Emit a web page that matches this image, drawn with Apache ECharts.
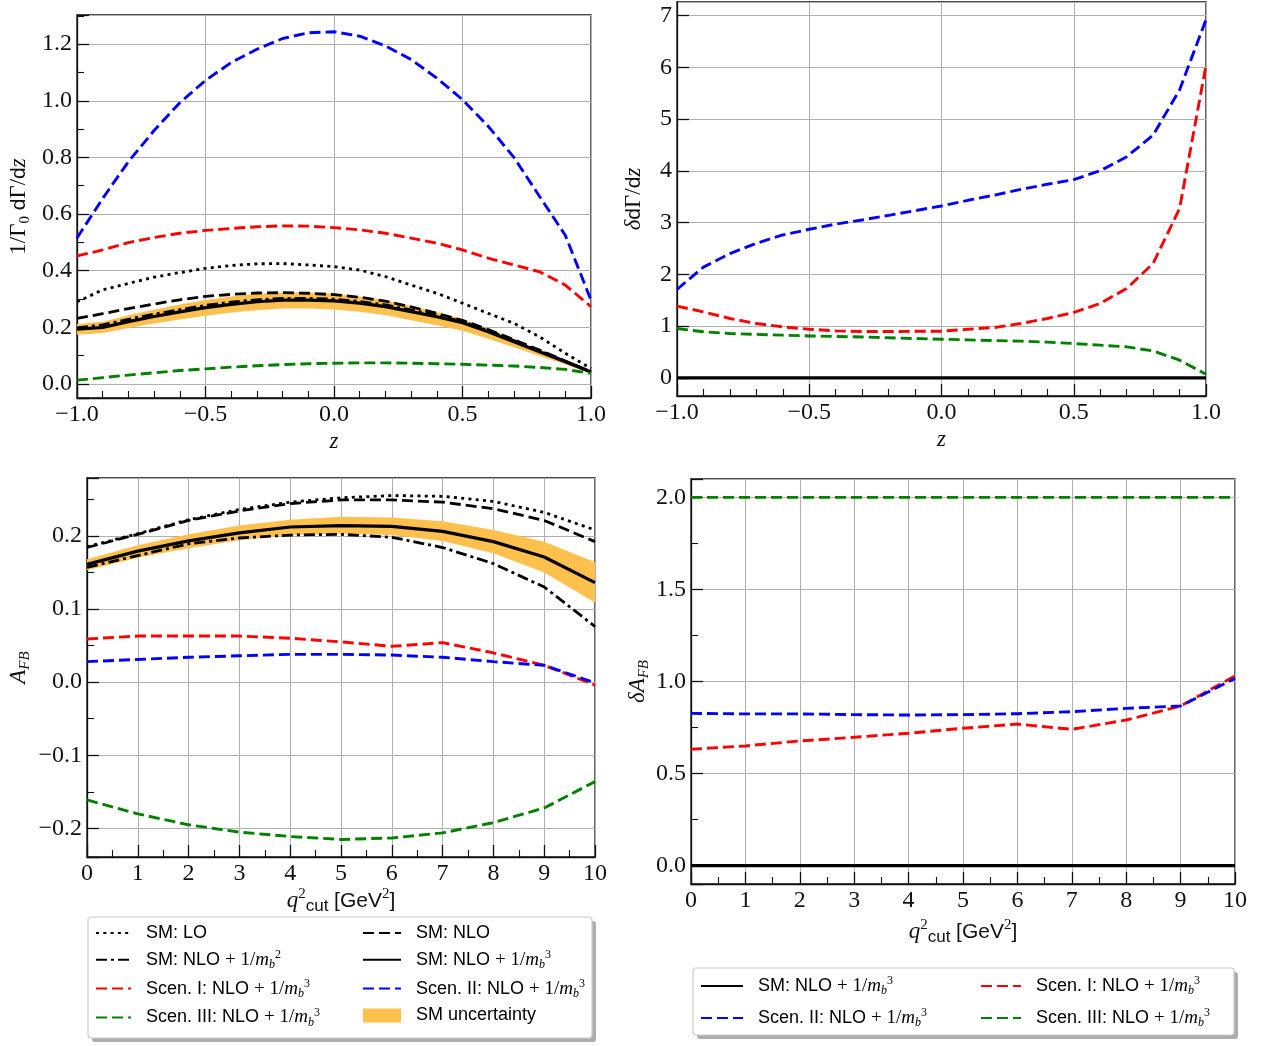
<!DOCTYPE html>
<html>
<head>
<meta charset="utf-8">
<script src="https://cdn.jsdelivr.net/npm/echarts@6/dist/echarts.min.js"></script>
<style>
  html, body { margin: 0; padding: 0; background: #ffffff; }
  #chart { width: 1272px; height: 1046px; }
</style>
</head>
<body>
<div id="chart"></div>
<script>
// ---- sampling points ----
const zValues = [-1.0, -0.9, -0.8, -0.7, -0.6, -0.5, -0.4, -0.3, -0.2, -0.1, 0.0,
                 0.1, 0.2, 0.3, 0.4, 0.5, 0.6, 0.7, 0.8, 0.9, 1.0];
const qCut = [0, 1, 2, 3, 4, 5, 6, 7, 8, 9, 10];

// ---- normalised spectrum 1/Γ0 dΓ/dz ----
const rateSmLO     = [0.290, 0.332, 0.355, 0.377, 0.393, 0.408, 0.418, 0.424, 0.425, 0.420, 0.414,
                      0.402, 0.379, 0.349, 0.320, 0.285, 0.249, 0.214, 0.166, 0.108, 0.054];
const rateSmNLO    = [0.231, 0.248, 0.266, 0.282, 0.297, 0.309, 0.316, 0.321, 0.322, 0.320, 0.315,
                      0.306, 0.292, 0.272, 0.249, 0.224, 0.192, 0.156, 0.119, 0.081, 0.042];
const rateSmNLO2   = [0.198, 0.208, 0.228, 0.246, 0.262, 0.277, 0.289, 0.297, 0.302, 0.302, 0.299,
                      0.291, 0.279, 0.261, 0.242, 0.220, 0.188, 0.153, 0.116, 0.080, 0.043];
const rateSmNLO3   = [0.193, 0.199, 0.220, 0.238, 0.254, 0.269, 0.281, 0.290, 0.296, 0.296, 0.293,
                      0.285, 0.273, 0.255, 0.237, 0.216, 0.184, 0.149, 0.113, 0.078, 0.042];
const rateBandLow  = [0.173, 0.180, 0.197, 0.213, 0.227, 0.241, 0.252, 0.260, 0.266, 0.266, 0.263,
                      0.255, 0.243, 0.225, 0.207, 0.188, 0.159, 0.129, 0.098, 0.068, 0.036];
const rateBandHigh = [0.211, 0.219, 0.242, 0.262, 0.280, 0.296, 0.309, 0.318, 0.324, 0.323, 0.319,
                      0.309, 0.295, 0.275, 0.254, 0.230, 0.195, 0.158, 0.120, 0.083, 0.045];
const rateScen1    = [0.452, 0.473, 0.499, 0.517, 0.532, 0.542, 0.549, 0.555, 0.558, 0.557, 0.552,
                      0.544, 0.532, 0.515, 0.497, 0.473, 0.444, 0.420, 0.396, 0.349, 0.273];
const rateScen2    = [0.515, 0.655, 0.785, 0.895, 0.993, 1.072, 1.135, 1.182, 1.220, 1.240, 1.244,
                      1.228, 1.194, 1.146, 1.080, 1.004, 0.910, 0.800, 0.662, 0.525, 0.296];
const rateScen3    = [0.013, 0.022, 0.031, 0.039, 0.047, 0.053, 0.059, 0.064, 0.068, 0.071, 0.073,
                      0.074, 0.074, 0.073, 0.071, 0.069, 0.066, 0.063, 0.058, 0.051, 0.037];

// ---- relative deviation δdΓ/dz ----
const devSm    = [0, 0, 0, 0, 0, 0, 0, 0, 0, 0, 0, 0, 0, 0, 0, 0, 0, 0, 0, 0, 0];
const devScen1 = [1.385, 1.275, 1.147, 1.050, 0.985, 0.940, 0.908, 0.895, 0.895, 0.900, 0.902,
                  0.940, 0.973, 1.050, 1.147, 1.263, 1.437, 1.727, 2.210, 3.270, 6.040];
const devScen2 = [1.71, 2.14, 2.40, 2.60, 2.76, 2.87, 2.97, 3.05, 3.14, 3.23, 3.32,
                  3.43, 3.53, 3.64, 3.74, 3.83, 4.00, 4.27, 4.69, 5.56, 6.92];
const devScen3 = [0.954, 0.890, 0.857, 0.840, 0.825, 0.810, 0.800, 0.790, 0.775, 0.760, 0.747,
                  0.734, 0.720, 0.710, 0.690, 0.664, 0.632, 0.600, 0.520, 0.342, 0.070];

// ---- forward-backward asymmetry A_FB vs q²_cut ----
const afbSmLO     = [0.185, 0.203, 0.222, 0.236, 0.246, 0.252, 0.255, 0.254, 0.247, 0.232, 0.208];
const afbSmNLO    = [0.184, 0.202, 0.221, 0.234, 0.244, 0.249, 0.249, 0.246, 0.237, 0.221, 0.192];
const afbSmNLO2   = [0.157, 0.173, 0.189, 0.197, 0.201, 0.202, 0.198, 0.184, 0.162, 0.130, 0.076];
const afbSmNLO3   = [0.161, 0.179, 0.193, 0.204, 0.212, 0.214, 0.213, 0.206, 0.192, 0.171, 0.136];
const afbBandLow  = [0.153, 0.170, 0.183, 0.194, 0.201, 0.203, 0.201, 0.193, 0.176, 0.150, 0.109];
const afbBandHigh = [0.168, 0.187, 0.202, 0.214, 0.222, 0.226, 0.225, 0.220, 0.208, 0.192, 0.164];
const afbScen1    = [0.059, 0.063, 0.063, 0.063, 0.060, 0.055, 0.049, 0.054, 0.040, 0.023, -0.004];
const afbScen2    = [0.028, 0.031, 0.034, 0.036, 0.038, 0.038, 0.037, 0.034, 0.028, 0.023, -0.001];
const afbScen3    = [-0.161, -0.180, -0.195, -0.205, -0.211, -0.215, -0.213, -0.206, -0.192, -0.172, -0.136];

// ---- relative deviation δA_FB ----
const dAfbSm    = [0, 0, 0, 0, 0, 0, 0, 0, 0, 0, 0];
const dAfbScen1 = [0.632, 0.650, 0.677, 0.697, 0.719, 0.746, 0.769, 0.740, 0.791, 0.867, 1.030];
const dAfbScen2 = [0.827, 0.824, 0.824, 0.820, 0.818, 0.820, 0.825, 0.836, 0.854, 0.867, 1.017];
const dAfbScen3 = [2.0, 2.0, 2.0, 2.0, 2.0, 2.0, 2.0, 2.0, 2.0, 2.0, 2.0];

// ---- series labels ----
const N_LO = 'SM: LO';
const N_NLO = 'SM: NLO';
const N_NLO2 = 'SM: NLO + 1/m_b^2';
const N_NLO3 = 'SM: NLO + 1/m_b^3';
const N_S1 = 'Scen. I: NLO + 1/m_b^3';
const N_S2 = 'Scen. II: NLO + 1/m_b^3';
const N_S3 = 'Scen. III: NLO + 1/m_b^3';
const N_BAND = 'SM uncertainty';

// ---- styling ----
const SERIF = 'Liberation Serif';
const SANS = 'Liberation Sans';
const INK = '#111111';
const BAND = '#ffc04d';
const DASH = [11, 5];
const DOT = [3, 4.3];
const DASHDOT = [11, 4, 3, 4];

const lineStyles = {
  [N_LO]:   { color: '#000000', width: 2.8, type: DOT },
  [N_NLO]:  { color: '#000000', width: 2.8, type: DASH },
  [N_NLO2]: { color: '#000000', width: 2.8, type: DASHDOT },
  [N_NLO3]: { color: '#000000', width: 3.2, type: 'solid' },
  [N_S1]:   { color: '#ff0000', width: 2.9, type: DASH },
  [N_S2]:   { color: '#0000ff', width: 2.9, type: DASH },
  [N_S3]:   { color: '#008000', width: 2.9, type: DASH },
};

function pairs(xs, ys) { return xs.map((x, i) => [x, ys[i]]); }

function curve(name, grid, xs, ys) {
  return {
    type: 'line', name: name, xAxisIndex: grid, yAxisIndex: grid,
    data: pairs(xs, ys), symbol: 'none', showSymbol: false, smooth: false,
    lineStyle: Object.assign({}, lineStyles[name]),
    itemStyle: { color: lineStyles[name].color },
    emphasis: { disabled: true }, z: 3,
  };
}

// uncertainty band: one filled polygon between the lower and upper edges
function band(grid, xs, low, high) {
  const rows = xs.map((x, i) => [x, low[i], high[i]]);
  return {
    type: 'custom', name: N_BAND, xAxisIndex: grid, yAxisIndex: grid,
    data: rows, encode: { x: 0, y: [1, 2] }, silent: true, z: 2,
    itemStyle: { color: BAND },
    renderItem: function (params, api) {
      if (params.dataIndex !== 0) return null;
      const top = rows.map(r => api.coord([r[0], r[2]]));
      const bottom = rows.map(r => api.coord([r[0], r[1]])).reverse();
      return {
        type: 'polygon',
        shape: { points: top.concat(bottom) },
        style: { fill: BAND, stroke: null },
      };
    },
  };
}

const minus = s => s.replace('-', '\u2212');
const fmt1 = v => minus(Math.abs(v) < 1e-9 ? '0.0' : v.toFixed(1));
const fmt0 = v => minus(String(Math.round(v)));

const NAME_RICH = {
  r:   { fontFamily: SERIF, fontSize: 23, color: INK, lineHeight: 28 },
  i:   { fontFamily: SERIF, fontStyle: 'italic', fontSize: 23, color: INK, lineHeight: 28 },
  s:   { fontFamily: SANS, fontSize: 21, color: INK, lineHeight: 28 },
  sub: { fontFamily: SERIF, fontSize: 15, color: INK, lineHeight: 12, verticalAlign: 'bottom' },
  isub:{ fontFamily: SERIF, fontStyle: 'italic', fontSize: 15, color: INK, lineHeight: 12, verticalAlign: 'bottom' },
  ssub:{ fontFamily: SANS, fontSize: 17, color: INK, lineHeight: 12, verticalAlign: 'bottom' },
  sup: { fontFamily: SERIF, fontSize: 15, color: INK, lineHeight: 12, verticalAlign: 'top' },
};

function axis(o) {
  return {
    type: 'value', gridIndex: o.grid, min: o.min, max: o.max,
    interval: o.interval, splitNumber: o.splitNumber,
    name: o.name || '', nameLocation: 'middle', nameGap: o.nameGap || 0, nameRotate: o.nameRotate || 0,
    nameTextStyle: { color: INK, rich: NAME_RICH },
    axisLine: { show: true, onZero: false, lineStyle: { color: INK, width: 1.3 } },
    axisTick: { show: true, inside: true, length: 12, lineStyle: { color: INK, width: 1.3 } },
    minorTick: { show: !!o.minor, splitNumber: o.minor || 5, length: 7, lineStyle: { color: INK, width: 1.1 } },
    splitLine: { show: true, lineStyle: { color: '#b0b0b0', width: 1 } },
    minorSplitLine: { show: false },
    axisLabel: {
      show: true, formatter: o.fmt, color: INK, fontFamily: SERIF, fontSize: 24,
      margin: o.margin || 5, showMinLabel: o.ends, showMaxLabel: o.ends, hideOverlap: false,
    },
  };
}

const grids = [
  { left: 77,  top: 15,  width: 514, height: 383 },
  { left: 677, top: 2,   width: 529, height: 394 },
  { left: 87,  top: 478, width: 508, height: 379 },
  { left: 691, top: 479, width: 544, height: 405 },
].map(g => Object.assign({ show: true, borderColor: INK, borderWidth: 1.3, backgroundColor: 'transparent',
                            outerBoundsMode: 'none', containLabel: false }, g));

const xAxes = [
  axis({ grid: 0, min: -1, max: 1, interval: 0.5, minor: 5, fmt: fmt1, ends: true, name: '{i|z}', nameGap: 30 }),
  axis({ grid: 1, min: -1, max: 1, interval: 0.5, minor: 5, fmt: fmt1, ends: true, name: '{i|z}', nameGap: 30 }),
  axis({ grid: 2, min: 0, max: 10, interval: 1, minor: 2, fmt: fmt0, ends: true,
         name: '{i|q}{sup|2}{ssub|cut}{r| }{s|[GeV}{sup|2}{s|]}', nameGap: 30 }),
  axis({ grid: 3, min: 0, max: 10, interval: 1, minor: 2, fmt: fmt0, ends: true,
         name: '{i|q}{sup|2}{ssub|cut}{r| }{s|[GeV}{sup|2}{s|]}', nameGap: 34 }),
];
const yAxes = [
  axis({ grid: 0, min: -0.05, max: 1.303, splitNumber: 7, minor: 2, fmt: fmt1, ends: false,
         name: '{r|1/Γ}{sub|0}{r| }{s|d}{r|Γ/}{s|d}{i|z}', nameGap: 44, nameRotate: 90 }),
  axis({ grid: 1, min: -0.35, max: 7.26, splitNumber: 8, minor: 0, fmt: fmt0, ends: false,
         name: '{i|δ}{s|d}{r|Γ/}{s|d}{i|z}', nameGap: 29, nameRotate: 90 }),
  axis({ grid: 2, min: -0.239, max: 0.279, splitNumber: 5, minor: 2, fmt: fmt1, ends: false,
         name: '{i|A}{isub|FB}', nameGap: 54, nameRotate: 90 }),
  axis({ grid: 3, min: -0.1, max: 2.1, splitNumber: 4, minor: 2, fmt: fmt1, ends: false,
         name: '{i|δA}{isub|FB}', nameGap: 39, nameRotate: 90 }),
];

const series = [].concat(
  band(0, zValues, rateBandLow, rateBandHigh),
  curve(N_LO, 0, zValues, rateSmLO),
  curve(N_NLO, 0, zValues, rateSmNLO),
  curve(N_NLO2, 0, zValues, rateSmNLO2),
  curve(N_NLO3, 0, zValues, rateSmNLO3),
  curve(N_S1, 0, zValues, rateScen1),
  curve(N_S2, 0, zValues, rateScen2),
  curve(N_S3, 0, zValues, rateScen3),

  curve(N_NLO3, 1, zValues, devSm),
  curve(N_S1, 1, zValues, devScen1),
  curve(N_S2, 1, zValues, devScen2),
  curve(N_S3, 1, zValues, devScen3),

  band(2, qCut, afbBandLow, afbBandHigh),
  curve(N_LO, 2, qCut, afbSmLO),
  curve(N_NLO, 2, qCut, afbSmNLO),
  curve(N_NLO2, 2, qCut, afbSmNLO2),
  curve(N_NLO3, 2, qCut, afbSmNLO3),
  curve(N_S1, 2, qCut, afbScen1),
  curve(N_S2, 2, qCut, afbScen2),
  curve(N_S3, 2, qCut, afbScen3),

  curve(N_NLO3, 3, qCut, dAfbSm),
  curve(N_S1, 3, qCut, dAfbScen1),
  curve(N_S2, 3, qCut, dAfbScen2),
  curve(N_S3, 3, qCut, dAfbScen3)
);

// legend labels: plain text part in sans, the power correction in math style
const LEGEND_RICH = {
  t:   { fontFamily: SANS, fontSize: 18, color: '#000', lineHeight: 22, padding: [0, 0, 0, 10] },
  r:   { fontFamily: SERIF, fontSize: 19, color: '#000', lineHeight: 22 },
  i:   { fontFamily: SERIF, fontStyle: 'italic', fontSize: 19, color: '#000', lineHeight: 22 },
  sub: { fontFamily: SERIF, fontStyle: 'italic', fontSize: 12, color: '#000', lineHeight: 10, verticalAlign: 'bottom' },
  sup: { fontFamily: SERIF, fontSize: 12, color: '#000', lineHeight: 10, verticalAlign: 'top' },
};
function legendLabel(name) {
  const m = name.match(/^(.*?) \+ 1\/m_b\^(\d)$/);
  if (!m) return '{t|' + name + '}';
  return '{t|' + m[1] + ' }{r|+ 1/}{i|m}{sub|b}{sup|' + m[2] + '}';
}
function legendColumn(names, left, top, iconW, gap) {
  return {
    orient: 'vertical', left: left, top: top, padding: 0, itemGap: gap,
    itemWidth: iconW, itemHeight: 14, selectedMode: false, z: 6,
    itemStyle: { opacity: 0 },
    data: names.map(n => n === N_BAND
      ? { name: n, icon: 'rect', itemStyle: { color: BAND, opacity: 1 } }
      : { name: n }),
    formatter: legendLabel,
    textStyle: { color: '#000', rich: LEGEND_RICH },
  };
}

const legends = [
  legendColumn([N_LO, N_NLO2, N_S1, N_S3], 95, 924, 35, 6.8),
  legendColumn([N_NLO, N_NLO3, N_S2, N_BAND], 362, 924, 38, 6.8),
  legendColumn([N_NLO3, N_S2], 700, 975, 42, 10),
  legendColumn([N_S1, N_S3], 980, 975, 40, 10),
];

// framed boxes behind the two legends (drop shadow + white panel)
const legendFrames = [
  { type: 'rect', silent: true, z: 1, shape: { x: 92, y: 921, width: 504, height: 121, r: 3 },
    style: { fill: 'rgba(0,0,0,0.32)' } },
  { type: 'rect', silent: true, z: 2, shape: { x: 88, y: 917, width: 504, height: 121, r: 3 },
    style: { fill: '#ffffff', stroke: '#cccccc', lineWidth: 1.2 } },
  { type: 'rect', silent: true, z: 1, shape: { x: 697, y: 972, width: 541, height: 67, r: 3 },
    style: { fill: 'rgba(0,0,0,0.32)' } },
  { type: 'rect', silent: true, z: 2, shape: { x: 693, y: 968, width: 541, height: 67, r: 3 },
    style: { fill: '#ffffff', stroke: '#cccccc', lineWidth: 1.2 } },
];

const chart = echarts.init(document.getElementById('chart'), null, { renderer: 'canvas' });
chart.setOption({
  animation: false,
  backgroundColor: '#ffffff',
  grid: grids,
  xAxis: xAxes,
  yAxis: yAxes,
  legend: legends,
  graphic: legendFrames,
  series: series,
});
</script>
</body>
</html>
